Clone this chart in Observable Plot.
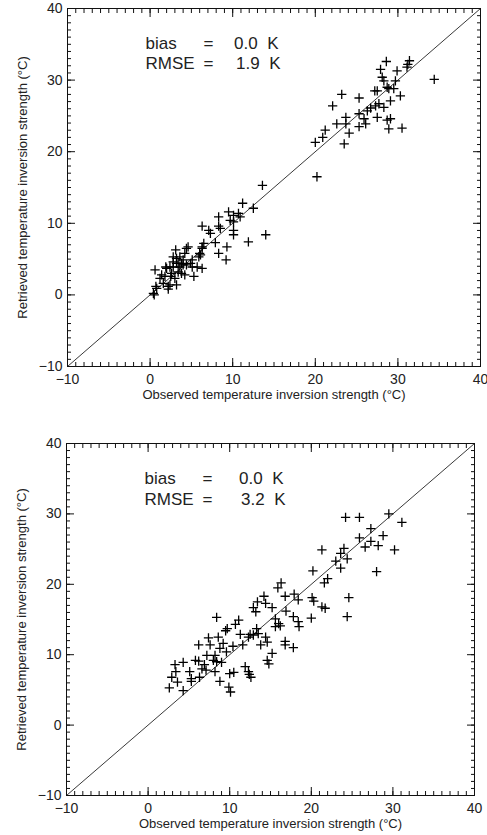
<!DOCTYPE html>
<html><head><meta charset="utf-8">
<script src="https://cdn.jsdelivr.net/npm/d3@7"></script>
<script src="https://cdn.jsdelivr.net/npm/@observablehq/plot@0.6"></script>
<style>
body{margin:0;background:#fff;}
#chart svg{display:block;}
</style></head><body><div id="chart"></div>
<script>
// ---- data ----
const axisDomain = [-10, 40];
const majorTicks = [-10, 0, 10, 20, 30, 40];
const minorTicks = d3.range(-10, 41, 1);
const identityLine = [-10, 40];
const xLabel = "Observed temperature inversion strength (°C)";
const yLabel = "Retrieved temperature inversion strength (°C)";
const statNames = ["bias", "RMSE"];
const topStats = ["0.0 K", "1.9 K"];
const bottomStats = ["0.0 K", "3.2 K"];

const topObserved = [
 34.4,31.4,31.2,31.1,28.6,27.9,28.1,28.3,29.9,29.7,28.7,28.9,29.5,27.5,27.2,30.3,29.1,23.2,25.3,22.1,27.7,27.3,28.3,26.7,26.3,25.3,23.7,22.6,23.7,25.9,26.1,25.3,27.5,28.7,29.1,28.9,30.5,24.1,21.2,20.9,20.0,23.5,20.2,
 13.6,11.2,12.5,9.5,10.1,10.7,10.9,8.3,9.7,10.1,6.3,8.3,8.5,7.1,7.3,10.1,10.1,14.0,11.9,7.9,9.3,8.3,9.2,6.5,6.3,
 0.6,0.4,0.5,0.7,0.8,1.9,2.0,1.8,1.6,2.2,2.2,2.4,2.8,2.6,3.0,3.2,3.1,3.2,2.8,3.4,3.6,3.8,4.0,4.2,4.4,4.6,4.9,4.4,5.1,4.2,5.3,5.7,5.9,6.1,6.3,6.0,6.3,3.6,3.8,3.4,2.8,3.2,2.4,1.4,1.2,4.0,5.1,2.5
];
const topRetrieved = [
 30.1,32.7,32.2,31.8,32.6,31.5,30.4,29.9,31.3,29.9,29.0,28.8,28.8,28.5,28.5,27.8,27.1,28.0,27.5,26.4,26.7,26.4,26.2,26.1,25.7,25.3,24.8,23.9,23.9,24.6,23.9,23.5,24.8,24.4,24.6,23.2,23.3,22.6,23.0,22.0,21.3,21.1,16.5,
 15.3,12.8,12.1,11.6,11.1,11.4,10.9,10.9,10.4,10.2,9.6,9.6,9.3,9.0,8.6,9.0,8.4,8.4,7.4,7.3,6.7,5.8,4.9,7.2,6.5,
 3.5,0.2,0.0,1.2,0.9,3.9,3.7,2.6,1.6,1.2,0.8,1.4,3.9,3.0,2.3,1.4,6.3,5.1,5.3,4.4,3.9,3.0,4.9,5.8,6.5,6.7,4.4,4.2,4.9,2.8,2.6,3.9,5.3,5.6,6.7,5.8,3.7,5.3,4.4,3.2,4.6,4.4,3.9,2.8,2.3,4.2,3.9,2.6
];

const bottomObserved = [
 24.2,25.9,29.5,31.1,27.3,25.9,28.8,27.3,26.6,28.2,30.2,21.3,24.0,23.6,24.4,23.0,23.6,20.2,28.0,22.0,21.6,16.3,15.9,24.6,16.8,17.9,20.1,20.3,18.4,
 14.2,13.4,14.4,15.2,12.9,13.2,16.9,21.3,21.7,24.4,20.0,17.8,18.4,18.5,15.6,16.0,15.6,16.2,
 8.4,11.1,10.7,11.3,13.3,13.5,12.9,12.3,12.5,9.7,9.5,14.4,14.6,13.8,16.8,16.8,17.8,15.2,14.6,14.8,11.6,10.4,
 8.6,7.4,6.2,7.6,9.2,9.6,8.8,8.2,7.2,8.0,5.8,6.2,6.9,6.6,8.4,9.0,8.2,8.8,7.1,
 4.3,3.3,3.4,2.9,2.6,3.6,5.1,5.3,5.3,6.3,4.3,10.0,10.5,9.9,10.1,11.9,12.3,12.6,12.4
];
const bottomRetrieved = [
 29.5,29.5,30.0,28.8,27.9,26.6,26.9,26.1,25.3,25.5,24.9,24.9,25.1,24.4,23.6,23.3,22.3,21.9,21.8,20.8,20.2,20.2,19.5,18.1,18.3,18.6,18.1,17.6,17.8,
 18.3,17.5,17.3,16.7,16.7,16.1,16.2,16.8,16.6,15.4,15.2,15.4,14.7,14.0,15.1,14.4,14.0,14.1,
 15.3,14.9,14.3,12.9,13.7,13.0,12.8,12.5,12.9,13.7,13.4,12.5,11.8,11.4,11.9,11.4,11.0,10.2,9.2,8.7,11.4,11.2,
 12.5,12.4,11.4,11.4,11.6,10.4,10.9,9.9,9.9,9.2,9.2,9.1,8.6,8.0,9.0,8.9,7.6,6.2,7.8,
 8.9,8.6,7.6,6.8,5.3,6.1,7.6,6.6,6.2,6.8,4.9,7.3,7.5,5.4,4.7,8.3,7.6,6.8,7.2
];

// ---- drawing ----
const FONT = "'Liberation Sans', Arial, sans-serif";
const INK = "#111";
const TXT = "#222";

function panel({observed, retrieved, stats, height, margin}) {
  const points = observed.map((o, i) => ({obs: o, ret: retrieved[i]}));
  const diag = identityLine.map(v => ({obs: v, ret: v}));
  const tickOpts = (size) => ({tickSize: size, fill: "none", label: null, stroke: INK, strokeWidth: 1});
  const statMarks = statNames.flatMap((name, i) => {
    const dy = margin.statDy[i];
    const common = {frameAnchor: "top-left", lineAnchor: "top", dy, fontSize: 17, fill: TXT};
    return [
      Plot.text([name], {...common, textAnchor: "start", dx: 78}),
      Plot.text(["="], {...common, textAnchor: "middle", dx: 141}),
      Plot.text([stats[i].replace(" ", "\u00a0\u00a0")], {...common, textAnchor: "end", dx: margin.statEnd[i]})
    ];
  });
  return Plot.plot({
    width: 487,
    height,
    marginTop: margin.top, marginRight: margin.right, marginBottom: margin.bottom, marginLeft: margin.left,
    style: {fontFamily: FONT, color: INK, background: "#fff"},
    x: {domain: axisDomain},
    y: {domain: axisDomain},
    marks: [
      Plot.line(diag, {x: "obs", y: "ret", stroke: "#222", strokeWidth: 0.9}),
      Plot.dot(points, {x: "obs", y: "ret", symbol: "plus", r: 3.1, stroke: "#000", strokeWidth: 1.3}),
      Plot.frame({stroke: INK, strokeWidth: 1}),
      // major & minor ticks, inward, on all four sides
      Plot.axisX(majorTicks, {anchor: "bottom", ...tickOpts(-8)}),
      Plot.axisX(minorTicks, {anchor: "bottom", ...tickOpts(-4)}),
      Plot.axisX(majorTicks, {anchor: "top", ...tickOpts(-8)}),
      Plot.axisX(minorTicks, {anchor: "top", ...tickOpts(-4)}),
      Plot.axisY(majorTicks, {anchor: "left", ...tickOpts(-8)}),
      Plot.axisY(minorTicks, {anchor: "left", ...tickOpts(-4)}),
      Plot.axisY(majorTicks, {anchor: "right", ...tickOpts(-8)}),
      Plot.axisY(minorTicks, {anchor: "right", ...tickOpts(-4)}),
      // tick labels
      Plot.axisX(majorTicks, {anchor: "bottom", tickSize: 0, tickPadding: 8, fontSize: 14, label: null, fill: TXT}),
      Plot.axisY(majorTicks, {anchor: "left", tickSize: 0, tickPadding: 5, fontSize: 14, label: null, fill: TXT}),
      // axis titles
      Plot.text([xLabel], {frameAnchor: "bottom", textAnchor: "middle", dy: margin.xLabelDy, fontSize: 13, fill: TXT}),
      Plot.text([yLabel], {frameAnchor: "left", textAnchor: "middle", rotate: -90, dx: -45, fontSize: 13, fill: TXT}),
      // statistics
      ...statMarks
    ]
  });
}

const chart = document.getElementById("chart");
chart.append(panel({observed: topObserved, retrieved: topRetrieved, stats: topStats, height: 415,
  margin: {top: 8, right: 7, bottom: 49, left: 67, xLabelDy: 32, statDy: [28, 48], statEnd: [211, 213]}}));
chart.append(panel({observed: bottomObserved, retrieved: bottomRetrieved, stats: bottomStats, height: 420,
  margin: {top: 28, right: 13, bottom: 40, left: 66, xLabelDy: 32, statDy: [28, 49], statEnd: [217, 219]}}));
</script></body></html>
